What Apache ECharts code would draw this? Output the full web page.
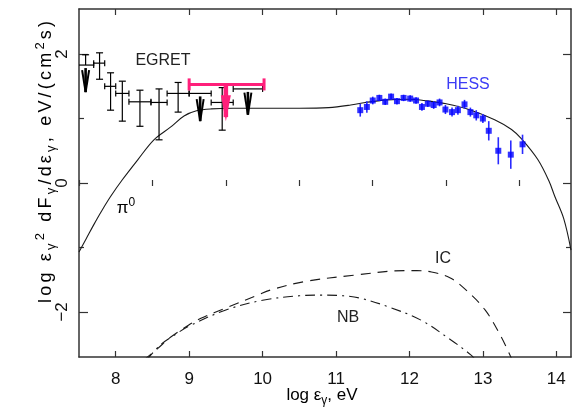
<!DOCTYPE html>
<html>
<head>
<meta charset="utf-8">
<script src="https://cdn.jsdelivr.net/npm/echarts@6/dist/echarts.min.js"></script>
<style>
html,body{margin:0;padding:0;background:#fff;}
#chart{width:578px;height:417px;}
</style>
</head>
<body>
<div id="chart"></div>
<script>
// ---- axis ticks ----
const xTicksMajor = [8, 9, 10, 11, 12, 13, 14];
const xTicksMinor = [7.5, 8.5, 9.5, 10.5, 11.5, 12.5, 13.5];
const yTicksMajor = [-2, 0, 2];
const yTicksMinor = [-1, 1];

// ---- model curves: [log E, log E^2 dF/dE] ----
const pi0Curve = [[7.5,-1.07],[7.6,-0.86],[7.7,-0.65],[7.8,-0.45],[7.93,-0.21],[8.09,0.05],[8.3,0.36],
  [8.52,0.67],[8.75,0.87],[8.93,1.04],[9.1,1.12],[9.3,1.15],[9.6,1.16],[10.0,1.16],[10.5,1.16],
  [10.9,1.17],[11.2,1.21],[11.4,1.25],[11.7,1.29],[12.0,1.30],[12.2,1.28],[12.5,1.23],[12.84,1.13],
  [13.16,0.98],[13.39,0.83],[13.53,0.68],[13.75,0.36],[13.9,0.03],[13.98,-0.21],[14.1,-0.55],[14.2,-1.04]];
const icCurve = [[8.38,-2.75],[8.57,-2.57],[8.75,-2.39],[9.0,-2.2],[9.16,-2.10],[9.52,-1.93],[9.93,-1.74],
  [10.11,-1.66],[10.57,-1.53],[11.25,-1.43],[11.93,-1.36],[12.1,-1.36],[12.3,-1.38],[12.55,-1.47],
  [12.75,-1.64],[13.03,-1.97],[13.25,-2.39],[13.4,-2.75]];
const nbCurve = [[8.42,-2.75],[8.6,-2.52],[8.8,-2.36],[9.0,-2.22],[9.5,-1.97],[10.0,-1.82],[10.5,-1.75],
  [10.8,-1.74],[11.1,-1.75],[11.34,-1.79],[11.71,-1.92],[12.16,-2.13],[12.57,-2.44],[12.84,-2.67],[12.9,-2.75]];

// ---- EGRET bins ----
const egretX   = [7.59, 7.78, 7.93, 8.09, 8.33, 8.59, 8.85, 9.15, 9.45, 9.80];
const egretXLo = [7.48, 7.70, 7.85, 8.00, 8.18, 8.48, 8.70, 9.00, 9.30, 9.60];
const egretXHi = [7.70, 7.85, 8.00, 8.18, 8.48, 8.70, 9.00, 9.30, 9.60, 10.00];
const egretY   = [1.83, 1.86, 1.50, 1.39, 1.26, 1.25, 1.39, 1.39, 1.25, 1.46];
const egretYHi = [1.99, 2.02, 1.71, 1.58, 1.44, 1.46, 1.56, null, 1.48, null];
const egretYLo = [1.41, 1.61, 1.13, 0.96, 0.88, 0.67, 1.10, 0.96, 0.82, 1.06];
const egretUL  = [1, 0, 0, 0, 0, 0, 0, 1, 0, 1];   // 1 = lower end drawn as arrow

// ---- HESS points ----
const hessX = [11.33,11.42,11.50,11.59,11.67,11.75,11.83,11.92,12.01,12.09,12.17,12.25,12.33,
  12.41,12.49,12.58,12.66,12.75,12.83,12.91,13.00,13.08,13.21,13.38,13.54];
const hessY = [1.13,1.18,1.28,1.32,1.26,1.34,1.27,1.32,1.31,1.28,1.18,1.23,1.21,
  1.25,1.14,1.10,1.13,1.22,1.10,1.05,1.00,0.81,0.50,0.44,0.60];
const hessErr = [0.10,0.09,0.06,0.05,0.05,0.05,0.05,0.05,0.05,0.05,0.06,0.05,0.06,
  0.06,0.07,0.07,0.07,0.07,0.07,0.08,0.07,0.15,0.21,0.22,0.15];

// ---- upper limit (magenta) ----
const limitX = [9.5];
const limitXLo = [9.0];
const limitXHi = [10.02];
const limitY = [1.53];
const limitTip = [0.96];

const chart = echarts.init(document.getElementById('chart'));
const FONT = '"Liberation Sans",Arial,sans-serif';
const AX = '#333';
const PINK = '#ff1f7a';

function valueAxis(extra) {
  return Object.assign({
    type: 'value', splitLine: {show: false},
    axisLine: {show: true, onZero: false, lineStyle: {color: AX, width: 1.5}},
    axisLabel: {show: false}
  }, extra);
}
function ticks(values, len) {
  return {show: true, inside: true, length: len, customValues: values, lineStyle: {color: AX, width: 1.2}};
}

const xRange = {min: 7.5, max: 14.2};
const yRange = {min: -2.7, max: 2.7};

const xAxes = [
  valueAxis(Object.assign({position: 'bottom', axisTick: ticks(xTicksMajor, 6),
    axisLabel: {show: true, customValues: xTicksMajor, margin: 14, fontSize: 17, color: '#111', fontFamily: FONT}}, xRange)),
  valueAxis(Object.assign({position: 'bottom', axisLine: {show: false}, axisTick: ticks(xTicksMinor, 3)}, xRange)),
  valueAxis(Object.assign({position: 'top', axisTick: ticks(xTicksMajor, 6)}, xRange)),
  valueAxis(Object.assign({position: 'top', axisLine: {show: false}, axisTick: ticks(xTicksMinor, 3)}, xRange))
];
const yAxes = [
  valueAxis(Object.assign({position: 'left', axisTick: ticks(yTicksMajor, 9),
    axisLabel: {show: true, customValues: yTicksMajor, rotate: 90, margin: 8, fontSize: 17, color: '#111', fontFamily: FONT,
      formatter: v => (v < 0 ? '\u2212' + Math.abs(v) : String(v))}}, yRange)),
  valueAxis(Object.assign({position: 'left', axisLine: {show: false}, axisTick: ticks(yTicksMinor, 5)}, yRange)),
  valueAxis(Object.assign({position: 'right', axisTick: ticks(yTicksMajor, 8)}, yRange)),
  valueAxis(Object.assign({position: 'right', axisLine: {show: false}, axisTick: ticks(yTicksMinor, 5)}, yRange))
];

function seg(x1, y1, x2, y2, stroke, w) {
  return {type: 'line', shape: {x1, y1, x2, y2}, style: {stroke, lineWidth: w}};
}

const egretData = egretX.map((x, i) => [x, egretY[i], egretXLo[i], egretXHi[i],
  egretYLo[i], egretYHi[i] == null ? NaN : egretYHi[i], egretUL[i]]);
const hessBars = hessX.map((x, i) => [x, hessY[i] - hessErr[i], hessY[i] + hessErr[i]]);
const limitData = limitX.map((x, i) => [x, limitY[i], limitXLo[i], limitXHi[i], limitTip[i]]);

function renderEgret(params, api) {
  const c = api.coord([api.value(0), api.value(1)]);
  const l = api.coord([api.value(2), api.value(1)]);
  const r = api.coord([api.value(3), api.value(1)]);
  const lo = api.coord([api.value(0), api.value(4)]);
  const yHi = api.value(5);
  const ul = api.value(6);
  const k = '#000';
  const ch = [];
  ch.push(seg(l[0], c[1], r[0], c[1], k, 1.2));
  ch.push(seg(l[0], c[1] - 3, l[0], c[1] + 3, k, 1.2));
  ch.push(seg(r[0], c[1] - 3, r[0], c[1] + 3, k, 1.2));
  if (!isNaN(yHi)) {
    const hi = api.coord([api.value(0), yHi]);
    ch.push(seg(c[0], hi[1], c[0], c[1], k, 1.2));
    ch.push(seg(c[0] - 3.5, hi[1], c[0] + 3.5, hi[1], k, 1.2));
  }
  if (ul) {
    const top = c[1] + 3;
    ch.push(seg(c[0], top, c[0], lo[1], k, 2.6));
    const armTop = Math.max(top, lo[1] - 22);
    ch.push(seg(c[0] - 3.5, armTop, c[0], lo[1], k, 2));
    ch.push(seg(c[0] + 3.5, armTop, c[0], lo[1], k, 2));
  } else {
    ch.push(seg(c[0], c[1], c[0], lo[1], k, 1.2));
    ch.push(seg(c[0] - 3.5, lo[1], c[0] + 3.5, lo[1], k, 1.2));
  }
  return {type: 'group', children: ch};
}

function renderHessBar(params, api) {
  const a = api.coord([api.value(0), api.value(1)]);
  const b = api.coord([api.value(0), api.value(2)]);
  return seg(a[0], a[1], b[0], b[1], '#2a2aff', 1.6);
}

function renderLimit(params, api) {
  const c = api.coord([api.value(0), api.value(1)]);
  const l = api.coord([api.value(2), api.value(1)]);
  const r = api.coord([api.value(3), api.value(1)]);
  const tip = api.coord([api.value(0), api.value(4)]);
  return {type: 'group', children: [
    seg(l[0], c[1], r[0], c[1], PINK, 3),
    seg(l[0], c[1] - 6, l[0], c[1] + 6, PINK, 3),
    seg(r[0], c[1] - 6, r[0], c[1] + 6, PINK, 3),
    seg(c[0], c[1], c[0], tip[1] - 4, PINK, 4.5),
    {type: 'polygon', shape: {points: [[c[0] - 5, tip[1] - 26], [c[0] + 5, tip[1] - 26], [c[0], tip[1]]]},
      style: {fill: PINK}}
  ]};
}

function curve(name, data, type) {
  return {name, type: 'line', data, smooth: 0.35, showSymbol: false, silent: true, clip: true,
    lineStyle: {color: '#1a1a1a', width: 1.1, type}, z: 2};
}

const rich = (size, sub, pad) => {
  const p = [0, pad || 0, 0, pad || 0];
  return {
    b: {fontSize: size, fontFamily: FONT, color: '#111', lineHeight: size + 6, padding: p},
    sub: {fontSize: sub, fontFamily: FONT, color: '#111', lineHeight: sub, verticalAlign: 'bottom', padding: p},
    sup: {fontSize: sub, fontFamily: FONT, color: '#111', lineHeight: sub, verticalAlign: 'top', padding: p}
  };
};

// spread a run of characters into one token per character (tracked lettering)
function tracked(style, str) {
  return Array.from(str).map(ch => '{' + style + '|' + ch + '}').join('');
}

const yTitle = tracked('b', 'log \u03b5') + tracked('sub', '\u03b3') + tracked('sup', '2') +
  tracked('b', ' dF') + tracked('sub', '\u03b3') + tracked('b', '/d\u03b5') + tracked('sub', '\u03b3') +
  tracked('b', ', eV/(cm') + tracked('sup', '2') + tracked('b', 's)');

chart.setOption({
  animation: false,
  grid: {left: 79, right: 7, top: 9, bottom: 60},
  xAxis: xAxes,
  yAxis: yAxes,
  series: [
    curve('pi0', pi0Curve, 'solid'),
    curve('IC', icCurve, [10, 7]),
    curve('NB', nbCurve, [10, 5, 2, 5]),
    {name: 'EGRET', type: 'custom', renderItem: renderEgret, data: egretData, clip: true, z: 3,
      encode: {x: [0, 2, 3], y: [1, 4]}},
    {name: 'HESS err', type: 'custom', renderItem: renderHessBar, data: hessBars, z: 3,
      encode: {x: 0, y: [1, 2]}},
    {name: 'HESS', type: 'scatter', data: hessX.map((x, i) => [x, hessY[i]]), symbol: 'rect', symbolSize: 6,
      itemStyle: {color: '#0000ff'}, z: 4},
    {name: 'limit', type: 'custom', renderItem: renderLimit, data: limitData, z: 5,
      encode: {x: [0, 2, 3], y: [1, 4]}}
  ],
  graphic: [
    {type: 'text', x: 163, y: 61, style: {text: 'EGRET', fontSize: 16, fontFamily: FONT, fill: '#222', align: 'center', verticalAlign: 'middle'}},
    {type: 'text', x: 468, y: 85, style: {text: 'HESS', fontSize: 16, fontFamily: FONT, fill: '#3c3cf5', align: 'center', verticalAlign: 'middle'}},
    {type: 'text', x: 126, y: 208, style: {text: '{b|\u03c0}{sup|0}', rich: rich(17, 12), align: 'center', verticalAlign: 'middle'}},
    {type: 'text', x: 443, y: 259, style: {text: 'IC', fontSize: 16, fontFamily: FONT, fill: '#222', align: 'center', verticalAlign: 'middle'}},
    {type: 'text', x: 348, y: 318, style: {text: 'NB', fontSize: 16, fontFamily: FONT, fill: '#222', align: 'center', verticalAlign: 'middle'}},
    {type: 'text', x: 322, y: 395, style: {text: '{b|log \u03b5}{sub|\u03b3}{b|, eV}', rich: rich(17, 12), align: 'center', verticalAlign: 'middle'}},
    {type: 'text', x: 46, y: 162, rotation: Math.PI / 2,
      style: {text: yTitle, rich: rich(18, 13, 1.6), align: 'center', verticalAlign: 'middle'}}
  ]
});
</script>
</body>
</html>
